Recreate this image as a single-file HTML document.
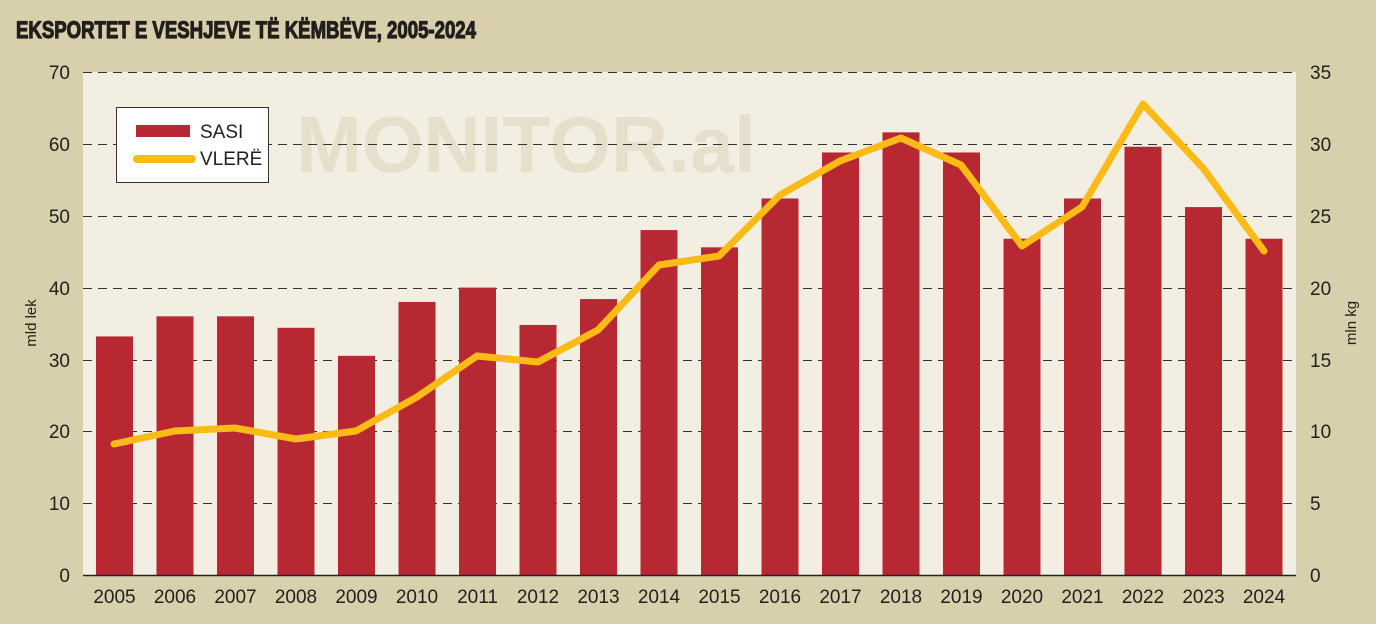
<!DOCTYPE html>
<html><head><meta charset="utf-8"><style>
html,body{margin:0;padding:0;background:#d8d0ad;}
svg{display:block}
text{font-family:"Liberation Sans Narrow","Liberation Sans",sans-serif;fill:#231f1c}
</style></head><body>
<svg width="1376" height="624" viewBox="0 0 1376 624" xmlns="http://www.w3.org/2000/svg">
<rect width="1376" height="624" fill="#d8d0ad"/>
<text x="16" y="38" font-size="24" font-weight="bold" stroke="#231f1c" stroke-width="1.2" textLength="460" lengthAdjust="spacingAndGlyphs" style="font-family:'Liberation Sans',sans-serif">EKSPORTET E VESHJEVE TË KËMBËVE, 2005-2024</text>
<rect x="83" y="72" width="1213" height="503" fill="#f2efe2"/>
<text x="296" y="172" font-size="80" font-weight="bold" style="fill:#e6dfcb;font-family:'Liberation Sans',sans-serif" textLength="460" lengthAdjust="spacingAndGlyphs">MONITOR.al</text>
<g stroke="#333" stroke-width="1" stroke-dasharray="9,6">
<line x1="83" x2="1296" y1="72.5" y2="72.5"/>
<line x1="83" x2="1296" y1="144.5" y2="144.5"/>
<line x1="83" x2="1296" y1="216.5" y2="216.5"/>
<line x1="83" x2="1296" y1="288.5" y2="288.5"/>
<line x1="83" x2="1296" y1="360.5" y2="360.5"/>
<line x1="83" x2="1296" y1="431.5" y2="431.5"/>
<line x1="83" x2="1296" y1="503.5" y2="503.5"/>
</g>
<g fill="#b82832" id="bars"></g>
<line x1="83" x2="1296" y1="575.5" y2="575.5" stroke="#222" stroke-width="1.5"/>
<polyline fill="none" stroke="#fbbb16" stroke-width="7" stroke-linejoin="round" stroke-linecap="round" points="114,444 175,431 235,428 296,439 356,431 417,397 477,356 538,362 598,330 659,265 719,256 780,195 840,161 901,138 961,165 1022,246 1082,207 1143,104 1203,168 1264,251"/>
<rect x="116.5" y="107.5" width="152" height="75" fill="#fff" stroke="#333" stroke-width="1"/>
<rect x="136" y="125" width="54" height="12" fill="#b82832"/>
<line x1="137" x2="192" y1="159" y2="159" stroke="#fbbb16" stroke-width="8" stroke-linecap="round"/>
<text x="200" y="138" font-size="19">SASI</text>
<text x="200" y="165" font-size="19">VLERË</text>
<g font-size="19" text-anchor="end">
<text x="70" y="79">70</text><text x="70" y="151">60</text><text x="70" y="223">50</text><text x="70" y="295">40</text><text x="70" y="367">30</text><text x="70" y="438">20</text><text x="70" y="510">10</text><text x="70" y="582">0</text>
</g>
<g font-size="19">
<text x="1310" y="79">35</text><text x="1310" y="151">30</text><text x="1310" y="223">25</text><text x="1310" y="295">20</text><text x="1310" y="367">15</text><text x="1310" y="438">10</text><text x="1310" y="510">5</text><text x="1310" y="582">0</text>
</g>
<text transform="translate(36,323) rotate(-90)" font-size="15" text-anchor="middle">mld lek</text>
<text transform="translate(1356,323) rotate(-90)" font-size="15" text-anchor="middle">mln kg</text>
<g font-size="19" text-anchor="middle" id="xl"></g>
</svg>
<script>
var v=[33.2,36,36,34.4,30.5,38,40,34.8,38.4,48,45.6,52.4,58.8,61.6,58.8,46.8,52.4,59.6,51.2,46.8];
var ns="http://www.w3.org/2000/svg",b=document.getElementById('bars'),xl=document.getElementById('xl');
for(var i=0;i<20;i++){var cx=114.5+i*60.5;var h=v[i]*503/70;
var r=document.createElementNS(ns,'rect');r.setAttribute('x',cx-18.5);r.setAttribute('width',37);r.setAttribute('y',575-h);r.setAttribute('height',h);b.appendChild(r);
var t=document.createElementNS(ns,'text');t.setAttribute('x',cx);t.setAttribute('y',603);t.textContent=2005+i;xl.appendChild(t);}
</script>
</body></html>
